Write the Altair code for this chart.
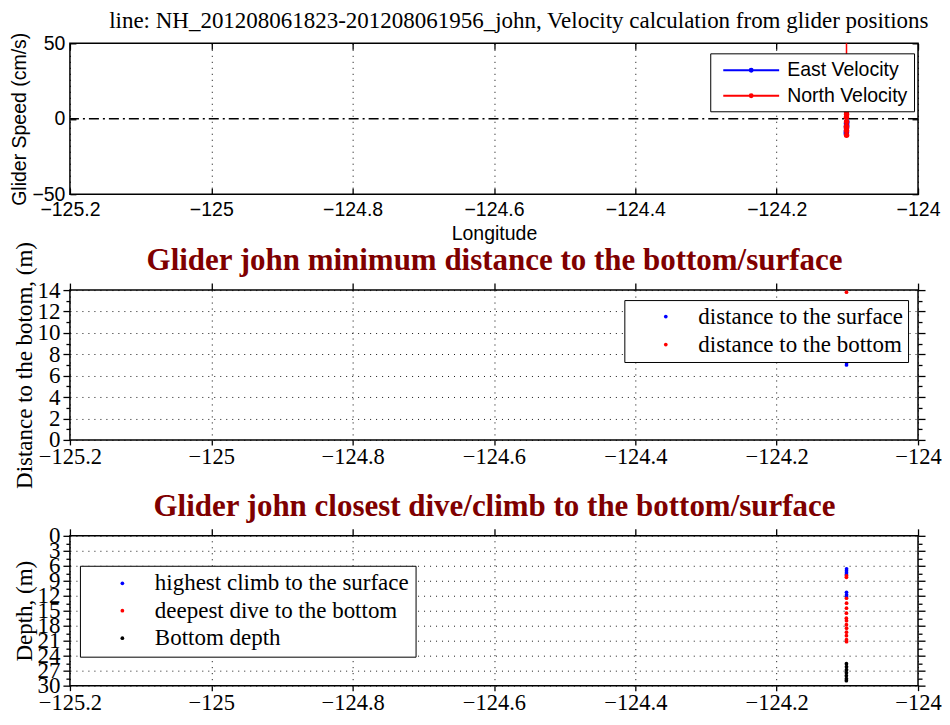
import altair as alt
import pandas as pd

# ---------------- data ----------------
lon_ticks = [-125.2, -125.0, -124.8, -124.6, -124.4, -124.2, -124.0]

# top panel: velocities
east_lon = [-124.1008, -124.1010, -124.1012, -124.1013, -124.1014, -124.1013, -124.1011, -124.1012]
east_vel = [-2, -4, -6, -8, -10, -9, -5, -3]
north_lon = [-124.1010, -124.1012, -124.1011, -124.1013, -124.1012, -124.1011, -124.1013, -124.1012, -124.1011, -124.1012]
north_vel = [8, 5, 3, 1, 60, -2, -5, -8, -11, -6]
speed_ticks = [-50, 0, 50]

# middle panel: distances
surf_lon = [-124.1012, -124.1011, -124.1013]
surf_dist = [7.0, 7.2, 7.4]
bot_lon = [-124.1012]
bot_dist = [13.8]
dist_ticks = [float(v) for v in range(0, 15)]

# bottom panel: depths
climb_lon = [-124.1011, -124.1012, -124.1012, -124.1013, -124.1012, -124.1011, -124.1012]
climb_depth = [6.6, 7.0, 7.4, 7.8, 11.3, 11.8, 12.2]
dive_lon = [-124.1012, -124.1013, -124.1012, -124.1011, -124.1012, -124.1013, -124.1014,
            -124.1012, -124.1013, -124.1011, -124.1012, -124.1013, -124.1012, -124.1011]
dive_depth = [8.0, 8.3, 12.5, 13.5, 14.5, 15.5, 16.5, 17.0, 17.8, 18.5, 19.3, 20.0, 20.8, 21.2]
bottom_lon = [-124.1013, -124.1012, -124.1012, -124.1013, -124.1014, -124.1013, -124.1014]
bottom_depth = [25.6, 26.2, 26.8, 27.4, 28.0, 28.6, 29.0]
depth_ticks = [i * 1.5 for i in range(0, 21)]

SERIF = "Liberation Serif"
SANS = "Liberation Sans"
W = 849
H_TOP = 151
H = 150
TITLE_RED = "#7f0000"


def no_axis(orient, values, offset=0, tick=0, title=None, **kw):
    """An axis that draws only ticks (and optionally a title)."""
    args = dict(orient=orient, values=values, labels=False, grid=False, domain=False,
                ticks=tick > 0, offset=offset, tickSize=tick)
    args["title"] = title
    args.update(kw)
    return alt.Axis(**args)


# ---------------- top panel ----------------
vel_names = ["East Velocity", "North Velocity"]
vel_colors = ["#0000ff", "#ff0000"]
top_df = pd.DataFrame({
    "lon": east_lon + north_lon,
    "vel": east_vel + north_vel,
    "series": [vel_names[0]] * len(east_lon) + [vel_names[1]] * len(north_lon),
    "col": [vel_colors[0]] * len(east_lon) + [vel_colors[1]] * len(north_lon),
    "idx": list(range(len(east_lon))) + list(range(len(north_lon))),
})
zero_df = pd.DataFrame({"v": [0]})

xs_top = alt.Scale(domain=[-125.2, -124.0], nice=False, zero=False)
ys_top = alt.Scale(domain=[-50, 50], nice=False, zero=False)

ax_top_x = alt.Axis(values=lon_ticks, format=".1~f", labelFont=SANS, labelFontSize=19.5,
                    title="Longitude", titleFont=SANS, titleFontSize=19.5, titleFontWeight="normal",
                    grid=True, ticks=False, domain=False, labelPadding=6,
                    titlePadding=6, labelFlush=False)
ax_top_y = alt.Axis(values=speed_ticks, labelFont=SANS, labelFontSize=19.5,
                    title="Glider Speed (cm/s)", titleFont=SANS, titleFontSize=19.5,
                    titleFontWeight="normal", grid=False, ticks=False, tickSize=0, domain=False,
                    labelPadding=5, titlePadding=2.5, labelFlush=False)

zero_rule = alt.Chart(zero_df).mark_rule(color="black", strokeWidth=1.3,
                                         strokeDash=[10, 4, 2, 4]).encode(
    y=alt.Y("v:Q", scale=ys_top, axis=ax_top_y))

line_sym = "M-2.87,0H2.87M0.15,0A0.15,0.15,0,1,1,-0.15,0A0.15,0.15,0,1,1,0.15,0"
vel_line = alt.Chart(top_df).mark_line(strokeWidth=1.5, clip=True).encode(
    x=alt.X("lon:Q", scale=xs_top, axis=ax_top_x),
    y=alt.Y("vel:Q", scale=ys_top, axis=ax_top_y),
    order="idx:Q",
    color=alt.Color("series:N", scale=alt.Scale(domain=vel_names, range=vel_colors),
                    legend=alt.Legend(orient="none", legendX=W - 208, legendY=10, title=None,
                                      strokeColor="black", fillColor="white", padding=6,
                                      labelFont=SANS, labelFontSize=19.5, labelColor="black",
                                      labelLimit=500,
                                      symbolType=line_sym, symbolSize=380, symbolStrokeWidth=2.0,
                                      symbolOffset=24, labelOffset=25, rowPadding=4.5)),
)
vel_pts = alt.Chart(top_df).mark_circle(size=30, opacity=1, clip=True).encode(
    x=alt.X("lon:Q", scale=xs_top, axis=ax_top_x),
    y=alt.Y("vel:Q", scale=ys_top, axis=ax_top_y),
    color=alt.Color("col:N", scale=None),
)
top_main = alt.layer(zero_rule, vel_line, vel_pts)

top_title = "line: NH_201208061823-201208061956_john, Velocity calculation from glider positions"
ghost_b = alt.Chart(top_df).mark_circle(opacity=0).encode(
    x=alt.X("lon:Q", scale=xs_top,
            axis=no_axis("top", lon_ticks, title=top_title, titleFont=SERIF, titleFontSize=23,
                         titleFontWeight="normal", titleColor="black", titleX=W + 10,
                         titleAlign="right", titlePadding=11)),
    y=alt.Y("vel:Q", scale=ys_top, axis=no_axis("right", speed_ticks, offset=-W, tick=6)),
)
ghost_c = alt.Chart(top_df).mark_circle(opacity=0).encode(
    x=alt.X("lon:Q", scale=xs_top, axis=no_axis("top", lon_ticks, offset=-H_TOP, tick=6)),
    y=alt.Y("vel:Q", scale=ys_top, axis=no_axis("left", speed_ticks, offset=-W, tick=6)),
)
ghost_d = alt.Chart(top_df).mark_circle(opacity=0).encode(
    x=alt.X("lon:Q", scale=xs_top, axis=no_axis("bottom", lon_ticks, offset=-H_TOP, tick=6)),
    y=alt.Y("vel:Q", scale=ys_top, axis=None),
)
top = alt.layer(top_main, ghost_b, ghost_c, ghost_d).resolve_axis(
    x="independent", y="independent").properties(width=W, height=H_TOP)


# ---------------- helper for boxed serif panels ----------------
def major_test(step):
    return f"abs(datum.value / {step} - round(datum.value / {step})) < 1e-6"


def boxed_panel(df, yfield, y_scale, y_vals, y_step, y_title, names, colors, legend, title):
    ax_x = alt.Axis(values=lon_ticks, format=".1~f", labelFont=SERIF, labelFontSize=22.5,
                    title=None, grid=True, ticks=True, tickSize=5, domain=False,
                    labelPadding=0.5, labelFlush=False)
    ax_y = alt.Axis(values=y_vals, labelFont=SERIF, labelFontSize=23,
                    labelExpr=f"{major_test(y_step)} ? datum.label : ''",
                    title=y_title, titleFont=SERIF, titleFontSize=23, titleFontWeight="normal",
                    grid=True,
                    gridOpacity={"condition": {"test": major_test(y_step), "value": 0.9}, "value": 0},
                    ticks=True,
                    tickSize={"condition": {"test": major_test(y_step), "value": 7}, "value": 4},
                    domain=False, labelPadding=3, titlePadding=0, labelOverlap=False,
                    labelFlush=False)
    ax_x2 = alt.Axis(orient="top", values=lon_ticks, labels=False, grid=False,
                     ticks=True, tickSize=7, domain=False,
                     title=title, titleFont=SERIF, titleFontSize=31, titleFontWeight="bold",
                     titleColor=TITLE_RED, titlePadding=5.5)
    ax_y2 = alt.Axis(orient="right", values=y_vals, labels=False, title=None, grid=False,
                     ticks=True,
                     tickSize={"condition": {"test": major_test(y_step), "value": 7}, "value": 4},
                     domain=False)
    xs = alt.Scale(domain=[-125.2, -124.0], nice=False, zero=False)
    pts = alt.Chart(df).mark_circle(size=14, opacity=1).encode(
        x=alt.X("lon:Q", scale=xs, axis=ax_x),
        y=alt.Y(f"{yfield}:Q", scale=y_scale, axis=ax_y),
        color=alt.Color("series:N", scale=alt.Scale(domain=names, range=colors), legend=legend),
    )
    ghost = alt.Chart(df).mark_circle(opacity=0).encode(
        x=alt.X("lon:Q", scale=xs, axis=ax_x2),
        y=alt.Y(f"{yfield}:Q", scale=y_scale, axis=ax_y2),
    )
    return alt.layer(pts, ghost).resolve_axis(x="independent", y="independent").properties(
        width=W, height=H)


def serif_legend(x, y, pad, row_pad):
    return alt.Legend(orient="none", legendX=x, legendY=y, title=None,
                      strokeColor="black", fillColor="white", padding=pad,
                      labelFont=SERIF, labelFontSize=23, labelColor="black", labelLimit=500,
                      symbolType="circle", symbolSize=14, symbolOffset=25, labelOffset=21,
                      rowPadding=row_pad)


# ---------------- middle panel ----------------
mid_names = ["distance to the surface", "distance to the bottom"]
mid_df = pd.DataFrame({
    "lon": surf_lon + bot_lon,
    "dist": surf_dist + bot_dist,
    "series": [mid_names[0]] * len(surf_lon) + [mid_names[1]] * len(bot_lon),
})
mid = boxed_panel(mid_df, "dist", alt.Scale(domain=[0, 14], nice=False, zero=False),
                  dist_ticks, 2, "Distance to the botom, (m)", mid_names,
                  ["#0000ff", "#ff0000"], serif_legend(W - 294, 10, 5, 4),
                  "Glider john minimum distance to the bottom/surface")

# ---------------- bottom panel ----------------
bot_names = ["highest climb to the surface", "deepest dive to the bottom", "Bottom depth"]
bot_df = pd.DataFrame({
    "lon": climb_lon + dive_lon + bottom_lon,
    "depth": climb_depth + dive_depth + bottom_depth,
    "series": [bot_names[0]] * len(climb_lon) + [bot_names[1]] * len(dive_lon)
              + [bot_names[2]] * len(bottom_lon),
})
bot = boxed_panel(bot_df, "depth", alt.Scale(domain=[0, 30], nice=False, zero=False, reverse=True),
                  depth_ticks, 3, "Depth, (m)", bot_names,
                  ["#0000ff", "#ff0000", "#000000"], serif_legend(10, 30, 6, 3.5),
                  "Glider john closest dive/climb to the bottom/surface")

chart = alt.vconcat(top, mid, bot, spacing=96, bounds="flush").resolve_scale(
    color="independent"
).resolve_legend(color="independent").properties(
    padding={"left": 0, "top": 0, "right": 0, "bottom": 0},
    background="white",
).configure_view(stroke="black", strokeWidth=1.5).configure_axis(
    tickColor="black", tickWidth=1.3, gridColor="black", gridDash=[1, 5], gridWidth=1,
    labelColor="black", titleColor="black",
)

chart.save("out.html", embed_options={"renderer": "svg", "actions": False})
